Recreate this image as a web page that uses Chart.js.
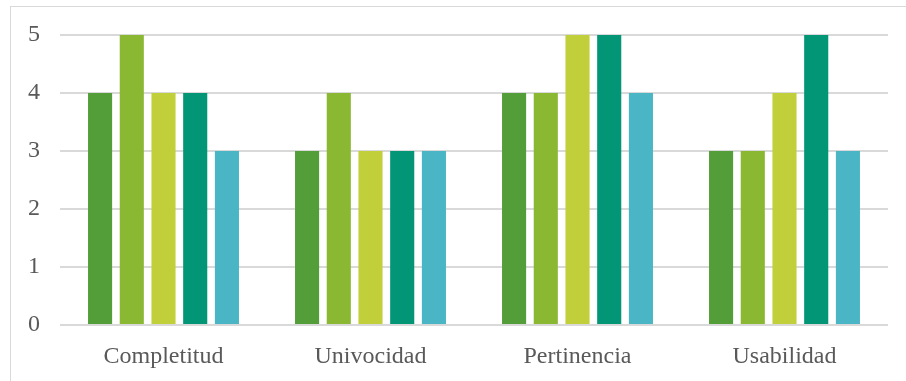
<!DOCTYPE html>
<html>
<head>
<meta charset="utf-8">
<script src="https://cdn.jsdelivr.net/npm/chart.js@4"></script>
<style>
  html, body { margin: 0; padding: 0; background: #fff; }
  #wrap { position: relative; width: 906px; height: 381px; }
  #frame { position: absolute; left: 10px; top: 6px; right: -2px; bottom: -2px;
           border-left: 1px solid #d9d9d9; border-top: 1px solid #d9d9d9; pointer-events: none; }
</style>
</head>
<body>
<div id="wrap">
  <canvas id="chart" width="906" height="381"></canvas>
  <div id="frame"></div>
</div>
<script>
// categorias y series
const categories = ["Completitud", "Univocidad", "Pertinencia", "Usabilidad"];
const serie1 = [4, 3, 4, 3];
const serie2 = [5, 4, 4, 3];
const serie3 = [4, 3, 5, 4];
const serie4 = [4, 3, 5, 5];
const serie5 = [3, 3, 4, 3];
const colors = ["#549E39", "#8AB833", "#C0CF3A", "#029676", "#4AB5C4"];
const yTicks = [0, 1, 2, 3, 4, 5];

const series = [serie1, serie2, serie3, serie4, serie5];

const ctx = document.getElementById('chart').getContext('2d');
new Chart(ctx, {
  type: 'bar',
  data: {
    labels: categories,
    datasets: series.map((d, i) => ({
      label: 'Serie ' + (i + 1),
      data: d,
      backgroundColor: colors[i],
      borderWidth: 0,
      categoryPercentage: 0.766,
      barPercentage: 0.76
    }))
  },
  options: {
    responsive: false,
    animation: false,
    layout: { padding: { left: 0, right: 18, top: 35, bottom: 0 } },
    plugins: { legend: { display: false }, tooltip: { enabled: false } },
    scales: {
      x: {
        grid: { display: false },
        border: { display: false },
        ticks: { color: '#595959', padding: 9, font: { family: 'Liberation Serif', size: 24 } },
        afterFit: s => { s.height = 56; }
      },
      y: {
        min: 0, max: 5,
        afterBuildTicks: s => { s.ticks = yTicks.map(v => ({ value: v })); },
        grid: { color: '#d9d9d9', lineWidth: 2, drawTicks: false },
        border: { display: false },
        ticks: { color: '#595959', padding: 20, font: { family: 'Liberation Serif', size: 24 } },
        afterFit: s => { s.width = 60; }
      }
    }
  }
});
</script>
</body>
</html>
